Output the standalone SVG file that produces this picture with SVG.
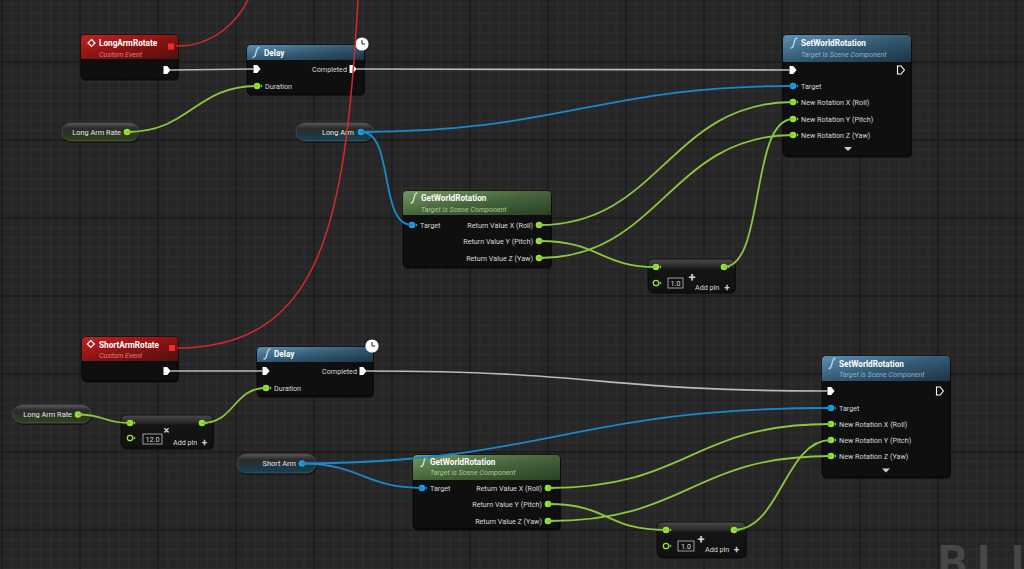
<svg xmlns="http://www.w3.org/2000/svg" xmlns:xlink="http://www.w3.org/1999/xlink" width="1024" height="569" viewBox="0 0 1024 569">
<style>
.t{font-family:Roboto,"Liberation Sans",sans-serif;font-size:8.2px;font-weight:bold;fill:#fff}
.s{font-family:Roboto,"Liberation Sans",sans-serif;font-size:7.2px;font-style:italic}
.sf{fill:#8fb0c8}.sp{fill:#a9c79a}.se{fill:#d98080}
.l{font-family:Roboto,"Liberation Sans",sans-serif;font-size:7.2px;fill:#d8d8d8}
.v{font-family:Roboto,"Liberation Sans",sans-serif;font-size:7.4px;fill:#e6e6e6;text-anchor:end}
.e{text-anchor:end}
.m{text-anchor:middle}
.body{fill:#0f0f0f;fill-opacity:.94;stroke:#050505;stroke-width:1}
.shd{fill:#000;opacity:.45}
.wire{fill:none;stroke-width:1.8;stroke-linecap:round}
.ex{stroke:#b9b9b9;stroke-width:1.7}
.gr{stroke:#8cc63f}
.bl{stroke:#1a88c8}
.rd{stroke:#d42a2a;stroke-width:1.5}
.pg{fill:#92e23a}
.pb{fill:#1e9be8}
.exp{fill:#fff}
.fi{fill:none;stroke-width:1.3;stroke-linecap:round}
.box{fill:#111;stroke:#bdbdbd;stroke-width:.8}
.sym{font-family:Roboto,"Liberation Sans",sans-serif;font-weight:bold;fill:#cfcfcf}
.pl{stroke:#4a4a4a;stroke-width:.8}
</style>
<defs>
<pattern id="minor" width="9.75" height="9.75" patternUnits="userSpaceOnUse" x="-2.875" y="-1.375">
<path d="M4.875,0V9.75M0,4.875H9.75" stroke="#303030" stroke-width="1"/>
</pattern>
<pattern id="major" width="78" height="78" patternUnits="userSpaceOnUse" x="41" y="23">
<path d="M39,0V78M0,39H78" stroke="#171717" stroke-width="1.4"/>
</pattern>
<linearGradient id="hF" x1="0" y1="0" x2="1" y2="1">
<stop offset="0" stop-color="#5e90b2"/><stop offset=".5" stop-color="#345a74"/><stop offset="1" stop-color="#1c3344"/>
</linearGradient>
<linearGradient id="hP" x1="0" y1="0" x2="1" y2="1">
<stop offset="0" stop-color="#73985f"/><stop offset=".5" stop-color="#46653c"/><stop offset="1" stop-color="#2a3f25"/>
</linearGradient>
<linearGradient id="hE" x1="0" y1="0" x2="1" y2="1">
<stop offset="0" stop-color="#c42222"/><stop offset=".5" stop-color="#8c1313"/><stop offset="1" stop-color="#4e1010"/>
</linearGradient>
<linearGradient id="pill" x1="0" y1="0" x2="0" y2="1">
<stop offset="0" stop-color="#5a5a5a"/><stop offset=".28" stop-color="#2c2c2c"/><stop offset="1" stop-color="#171717"/>
</linearGradient>
<linearGradient id="tintG" x1="0" y1="0" x2="0" y2="1">
<stop offset=".3" stop-color="#5f9a2a" stop-opacity="0"/><stop offset="1" stop-color="#5f9a2a" stop-opacity=".35"/>
</linearGradient>
<linearGradient id="tintB" x1="0" y1="0" x2="0" y2="1">
<stop offset=".3" stop-color="#1a86b8" stop-opacity="0"/><stop offset="1" stop-color="#1a86b8" stop-opacity=".4"/>
</linearGradient>
<linearGradient id="mth" x1="0" y1="0" x2="0" y2="1">
<stop offset="0" stop-color="#4a4a4a"/><stop offset=".22" stop-color="#2a2a2a"/><stop offset=".3" stop-color="#141414"/><stop offset="1" stop-color="#111"/>
</linearGradient>
<g id="pin"><circle r="3.3"/><path d="M3.8,-1.8L5.6,0L3.8,1.8Z"/></g>
<g id="pino"><circle r="2.7" fill="none" stroke="#92e23a" stroke-width="1.3"/><path d="M3.8,-1.8L5.6,0L3.8,1.8Z" fill="#92e23a"/></g>
<path id="exec" d="M-3.5,-4H0.2L3.6,0L0.2,4H-3.5Z"/>
<path id="fn" d="M-3,5C-1,5 -0.6,3 0,0S1,-5 3,-5"/>
<g id="clock"><circle r="6.6" fill="#fff"/><path d="M0,-4V0H3" fill="none" stroke="#222" stroke-width="1"/></g>
</defs>

<rect width="1024" height="569" fill="#262626"/>
<rect width="1024" height="569" fill="url(#minor)"/>
<rect width="1024" height="569" fill="url(#major)"/>
<text x="938" y="578" font-family="Roboto,'Liberation Sans',sans-serif" font-size="46" font-weight="bold" letter-spacing="10" fill="#474747">BLU</text>

<g id="longArmRotate">
<rect class="shd" x="82" y="37" width="97" height="44" rx="4"/>
<rect class="body" x="81" y="35" width="97" height="44" rx="4"/>
<path d="M81,59V39Q81,35 85,35H174Q178,35 178,39V59Z" fill="url(#hE)"/>
<path d="M91.5,39.5L95,43L91.5,46.5L88,43Z" fill="none" stroke="#fff" stroke-width="1.2"/>
<text class="t" x="99" y="46">LongArmRotate</text>
<text class="s se" x="99" y="56.5">Custom Event</text>
<rect x="168" y="43.5" width="6" height="6" fill="#ee2b2b"/>
<use xlink:href="#exec" x="167" y="70" class="exp"/>
</g>

<g id="delay1">
<rect class="shd" x="248" y="47" width="117" height="49" rx="4"/>
<rect class="body" x="247" y="45" width="117" height="49" rx="4"/>
<path d="M247,60V49Q247,45 251,45H360Q364,45 364,49V60Z" fill="url(#hF)"/>
<use xlink:href="#fn" x="256" y="52.5" class="fi" stroke="#b6d6ee"/>
<text class="t" x="264" y="55.5">Delay</text>
<use xlink:href="#clock" x="362" y="44"/>
<use xlink:href="#exec" x="257" y="69" class="exp"/>
<text class="l e" x="347" y="71.7">Completed</text>
<use xlink:href="#exec" x="353" y="69" class="exp"/>
<use xlink:href="#pin" x="257" y="86" class="pg"/>
<text class="l" x="265" y="88.7">Duration</text>
</g>

<g id="longArmRate1">
<rect class="shd" x="63" y="125" width="77" height="18" rx="9"/>
<rect class="pl" x="62" y="123" width="77" height="18" rx="9" fill="url(#pill)"/>
<rect x="62" y="123" width="77" height="18" rx="9" fill="url(#tintG)"/>
<text class="v" x="121" y="134.7">Long Arm Rate</text>
<use xlink:href="#pin" x="127" y="132" class="pg"/>
</g>

<g id="longArm1">
<rect class="shd" x="297" y="125" width="77" height="18" rx="9"/>
<rect class="pl" x="296" y="123" width="77" height="18" rx="9" fill="url(#pill)"/>
<rect x="296" y="123" width="77" height="18" rx="9" fill="url(#tintB)"/>
<text class="v" x="354" y="134.7">Long Arm</text>
<use xlink:href="#pin" x="361" y="132" class="pb"/>
</g>

<g id="setWorldRotation1">
<rect class="shd" x="784" y="37" width="128" height="121" rx="4"/>
<rect class="body" x="783" y="35" width="128" height="121" rx="4"/>
<path d="M783,62V39Q783,35 787,35H907Q911,35 911,39V62Z" fill="url(#hF)"/>
<use xlink:href="#fn" x="794" y="43" class="fi" stroke="#b6d6ee"/>
<text class="t" x="801" y="46.3">SetWorldRotation</text>
<text class="s sf" x="801" y="56.5">Target is Scene Component</text>
<use xlink:href="#exec" x="793" y="70" class="exp"/>
<path d="M897.5,66H901L904.4,70L901,74H897.5Z" fill="none" stroke="#fff" stroke-width="1.1"/>
<use xlink:href="#pin" x="793" y="86" class="pb"/>
<text class="l" x="801" y="88.6">Target</text>
<use xlink:href="#pin" x="793" y="102" class="pg"/>
<text class="l" x="801" y="104.6">New Rotation X (Roll)</text>
<use xlink:href="#pin" x="793" y="119" class="pg"/>
<text class="l" x="801" y="121.6">New Rotation Y (Pitch)</text>
<use xlink:href="#pin" x="793" y="135" class="pg"/>
<text class="l" x="801" y="137.6">New Rotation Z (Yaw)</text>
<path d="M844,147H852L848,151Z" fill="#d0d0d0"/>
</g>

<g id="getWorldRotation1">
<rect class="shd" x="404" y="193" width="148" height="76" rx="4"/>
<rect class="body" x="403" y="191" width="148" height="76" rx="4"/>
<path d="M403,215V195Q403,191 407,191H547Q551,191 551,195V215Z" fill="url(#hP)"/>
<use xlink:href="#fn" x="414" y="198" class="fi" stroke="#cfe8bf"/>
<text class="t" x="421" y="201">GetWorldRotation</text>
<text class="s sp" x="421" y="211.5">Target is Scene Component</text>
<use xlink:href="#pin" x="412" y="225" class="pb"/>
<text class="l" x="420" y="227.6">Target</text>
<text class="l e" x="533" y="227.6">Return Value X (Roll)</text>
<use xlink:href="#pin" x="539" y="225" class="pg"/>
<text class="l e" x="533" y="243.6">Return Value Y (Pitch)</text>
<use xlink:href="#pin" x="539" y="241" class="pg"/>
<text class="l e" x="533" y="260.6">Return Value Z (Yaw)</text>
<use xlink:href="#pin" x="539" y="258" class="pg"/>
</g>

<g id="add1">
<rect class="shd" x="649" y="261" width="87" height="33" rx="5"/>
<rect x="648" y="259" width="87" height="33" rx="5" fill="url(#mth)" stroke="#080808" stroke-width=".8"/>
<use xlink:href="#pin" x="656" y="267" class="pg"/>
<use xlink:href="#pin" x="724" y="267" class="pg"/>
<use xlink:href="#pino" x="656" y="283"/>
<rect class="box" x="668" y="278" width="15" height="10"/>
<text class="l m" x="675.5" y="285.5" font-size="6.8">1.0</text>
<text class="sym m" x="692" y="282" font-size="13">+</text>
<text class="l" x="695" y="289.5">Add pin</text>
<text class="sym m" x="727" y="291" font-size="10" fill="#fff">+</text>
</g>

<g id="shortArmRotate">
<rect class="shd" x="83" y="339" width="96" height="44" rx="4"/>
<rect class="body" x="82" y="337" width="96" height="44" rx="4"/>
<path d="M82,361V341Q82,337 86,337H174Q178,337 178,341V361Z" fill="url(#hE)"/>
<path d="M90.8,340.5L94.3,344L90.8,347.5L87.3,344Z" fill="none" stroke="#fff" stroke-width="1.2"/>
<text class="t" x="99" y="347.5">ShortArmRotate</text>
<text class="s se" x="99" y="358">Custom Event</text>
<rect x="169" y="345" width="6" height="6" fill="#ee2b2b"/>
<use xlink:href="#exec" x="167" y="371" class="exp"/>
</g>

<g id="delay2">
<rect class="shd" x="258" y="349" width="116" height="49" rx="4"/>
<rect class="body" x="257" y="347" width="116" height="49" rx="4"/>
<path d="M257,362V351Q257,347 261,347H369Q373,347 373,351V362Z" fill="url(#hF)"/>
<use xlink:href="#fn" x="267" y="354" class="fi" stroke="#b6d6ee"/>
<text class="t" x="274" y="357">Delay</text>
<use xlink:href="#clock" x="372" y="346"/>
<use xlink:href="#exec" x="266" y="371" class="exp"/>
<text class="l e" x="357" y="373.7">Completed</text>
<use xlink:href="#exec" x="363" y="371" class="exp"/>
<use xlink:href="#pin" x="266" y="388" class="pg"/>
<text class="l" x="274" y="390.7">Duration</text>
</g>

<g id="longArmRate2">
<rect class="shd" x="14" y="407" width="78" height="18" rx="9"/>
<rect class="pl" x="13" y="405" width="78" height="18" rx="9" fill="url(#pill)"/>
<rect x="13" y="405" width="78" height="18" rx="9" fill="url(#tintG)"/>
<text class="v" x="72" y="417.2">Long Arm Rate</text>
<use xlink:href="#pin" x="78" y="414.5" class="pg"/>
</g>

<g id="multiply">
<rect class="shd" x="122" y="417" width="92" height="33" rx="5"/>
<rect x="121" y="415" width="92" height="33" rx="5" fill="url(#mth)" stroke="#080808" stroke-width=".8"/>
<use xlink:href="#pin" x="130" y="423" class="pg"/>
<use xlink:href="#pin" x="202" y="423" class="pg"/>
<use xlink:href="#pino" x="130" y="438"/>
<rect class="box" x="143" y="434" width="19" height="10"/>
<text class="l m" x="152.5" y="441.5" font-size="6.8">12.0</text>
<text class="sym m" x="166.5" y="433.5" font-size="11">×</text>
<text class="l" x="173" y="444.5">Add pin</text>
<text class="sym m" x="204.5" y="446" font-size="10" fill="#fff">+</text>
</g>

<g id="shortArm">
<rect class="shd" x="238" y="456" width="79" height="19" rx="9.5"/>
<rect class="pl" x="237" y="454" width="79" height="19" rx="9.5" fill="url(#pill)"/>
<rect x="237" y="454" width="79" height="19" rx="9.5" fill="url(#tintB)"/>
<text class="v" x="296" y="466">Short Arm</text>
<use xlink:href="#pin" x="302" y="463.5" class="pb"/>
</g>

<g id="getWorldRotation2">
<rect class="shd" x="414" y="457" width="147" height="74" rx="4"/>
<rect class="body" x="413" y="455" width="147" height="74" rx="4"/>
<path d="M413,480V459Q413,455 417,455H556Q560,455 560,459V480Z" fill="url(#hP)"/>
<use xlink:href="#fn" x="424" y="461.5" class="fi" stroke="#cfe8bf"/>
<text class="t" x="430" y="464.5">GetWorldRotation</text>
<text class="s sp" x="430" y="475">Target is Scene Component</text>
<use xlink:href="#pin" x="422" y="488" class="pb"/>
<text class="l" x="430" y="490.6">Target</text>
<text class="l e" x="542" y="490.6">Return Value X (Roll)</text>
<use xlink:href="#pin" x="548" y="488" class="pg"/>
<text class="l e" x="542" y="506.6">Return Value Y (Pitch)</text>
<use xlink:href="#pin" x="548" y="504" class="pg"/>
<text class="l e" x="542" y="523.6">Return Value Z (Yaw)</text>
<use xlink:href="#pin" x="548" y="521" class="pg"/>
</g>

<g id="setWorldRotation2">
<rect class="shd" x="823" y="358" width="128" height="121" rx="4"/>
<rect class="body" x="822" y="356" width="128" height="121" rx="4"/>
<path d="M822,381V360Q822,356 826,356H946Q950,356 950,360V381Z" fill="url(#hF)"/>
<use xlink:href="#fn" x="832" y="363.5" class="fi" stroke="#b6d6ee"/>
<text class="t" x="839" y="366.5">SetWorldRotation</text>
<text class="s sf" x="839" y="377">Target is Scene Component</text>
<use xlink:href="#exec" x="831" y="391" class="exp"/>
<path d="M936.5,387H940L943.4,391L940,395H936.5Z" fill="none" stroke="#fff" stroke-width="1.1"/>
<use xlink:href="#pin" x="831" y="408" class="pb"/>
<text class="l" x="839" y="410.6">Target</text>
<use xlink:href="#pin" x="831" y="424" class="pg"/>
<text class="l" x="839" y="426.6">New Rotation X (Roll)</text>
<use xlink:href="#pin" x="831" y="440" class="pg"/>
<text class="l" x="839" y="442.6">New Rotation Y (Pitch)</text>
<use xlink:href="#pin" x="831" y="456" class="pg"/>
<text class="l" x="839" y="458.6">New Rotation Z (Yaw)</text>
<path d="M882,468.5H890L886,472.5Z" fill="#d0d0d0"/>
</g>

<g id="add2">
<rect class="shd" x="658" y="524" width="89" height="35" rx="5"/>
<rect x="657" y="522" width="89" height="35" rx="5" fill="url(#mth)" stroke="#080808" stroke-width=".8"/>
<use xlink:href="#pin" x="666" y="530" class="pg"/>
<use xlink:href="#pin" x="734" y="530" class="pg"/>
<use xlink:href="#pino" x="666" y="546"/>
<rect class="box" x="678" y="541" width="16" height="10"/>
<text class="l m" x="686" y="548.5" font-size="6.8">1.0</text>
<text class="sym m" x="701" y="544" font-size="13">+</text>
<text class="l" x="705" y="552">Add pin</text>
<text class="sym m" x="736.5" y="553" font-size="10" fill="#fff">+</text>
</g>

<g id="connectors">
<path class="wire rd" d="M177,46C215,46 238,20 248,0"/>
<path class="wire rd" d="M178,348C320,346 345,230 358,0"/>
<path class="wire ex" d="M171,70L253,69"/>
<path class="wire ex" d="M357,69C500,69 650,70 789,70"/>
<path class="wire ex" d="M171,371L262,371"/>
<path class="wire ex" d="M367,371C600,371 600,391 827,391"/>
<path class="wire gr" d="M127,132C190,132 195,86 257,86"/>
<path class="wire gr" d="M78,414.5C104,414.5 104,423 130,423"/>
<path class="wire gr" d="M202,423C235,423 233,388 266,388"/>
<path class="wire gr" d="M539,225C660,225 670,102 793,102"/>
<path class="wire gr" d="M539,258C660,258 670,135 793,135"/>
<path class="wire gr" d="M539,241C600,241 600,267 656,267"/>
<path class="wire gr" d="M724,267C765,267 750,119 793,119"/>
<path class="wire gr" d="M548,488C690,488 690,424 831,424"/>
<path class="wire gr" d="M548,521C690,521 690,456 831,456"/>
<path class="wire gr" d="M548,504C610,504 605,530 666,530"/>
<path class="wire gr" d="M734,530C780,530 785,440 831,440"/>
<path class="wire bl" d="M361,132C560,132 600,86 793,86"/>
<path class="wire bl" d="M361,132C395,132 378,225 412,225"/>
<path class="wire bl" d="M302,463.5C550,462 570,408 831,408"/>
<path class="wire bl" d="M302,463.5C360,463.5 365,488 422,488"/>
</g>
</svg>
